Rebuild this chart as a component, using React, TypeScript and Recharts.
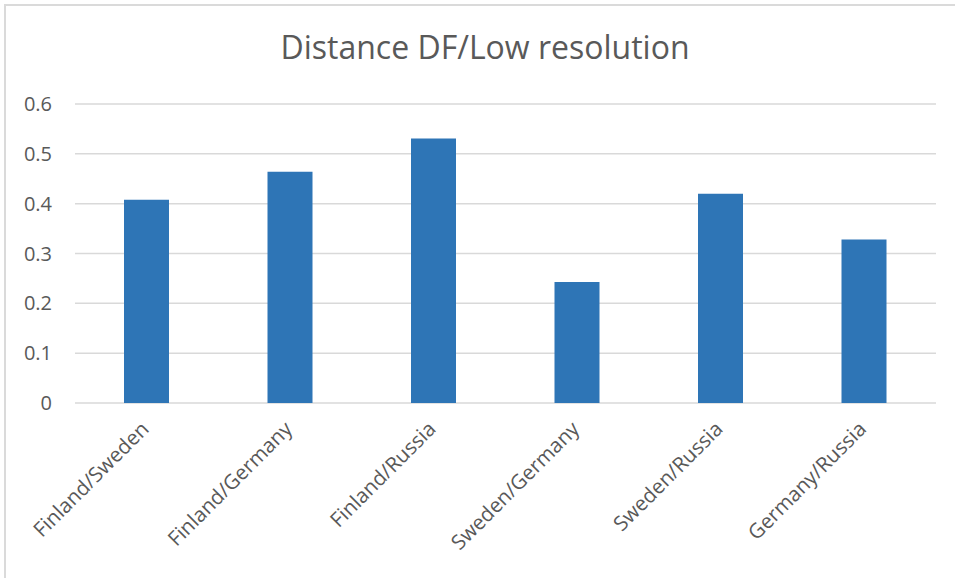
import React from "react";
import { BarChart, Bar, XAxis, YAxis, CartesianGrid } from "recharts";

const pairs = [
  "Finland/Sweden",
  "Finland/Germany",
  "Finland/Russia",
  "Sweden/Germany",
  "Sweden/Russia",
  "Germany/Russia",
];
const distances = [0.408, 0.464, 0.531, 0.243, 0.42, 0.328];
const yTicks = [0, 0.1, 0.2, 0.3, 0.4, 0.5, 0.6];

const chartTitle = "Distance DF/Low resolution";

const data = pairs.map((pair, i) => ({ pair, distance: distances[i] }));

const FONT = '"Open Sans", sans-serif';
const TEXT = "#595959";
const GRID = "#D9D9D9";

export default function App() {
  return (
    <div
      style={{
        position: "absolute",
        left: 0,
        top: 0,
        width: 955,
        height: 578,
        background: "#fff",
        overflow: "hidden",
      }}
    >
      <div
        style={{
          position: "absolute",
          left: 0,
          top: 31,
          width: 970,
          textAlign: "center",
          fontFamily: FONT,
          fontSize: 32,
          lineHeight: "32px",
          color: TEXT,
          whiteSpace: "nowrap",
        }}
      >
        {chartTitle}
      </div>
      <div style={{ position: "absolute", left: 0, top: 0 }}>
        <BarChart
          width={955}
          height={578}
          data={data}
          margin={{ top: 104, right: 19, bottom: 0, left: 0 }}
        >
          <CartesianGrid
            horizontal
            vertical={false}
            stroke={GRID}
            strokeWidth={1.5}
          />
          <XAxis
            dataKey="pair"
            height={175}
            axisLine={false}
            tickLine={false}
            tickSize={0}
            tickMargin={17}
            interval={0}
            angle={-45}
            textAnchor="end"
            tick={{ fill: TEXT, fontSize: 20.5, fontFamily: FONT, dx: -7 }}
          />
          <YAxis
            width={75}
            domain={[0, 0.6]}
            ticks={yTicks}
            axisLine={false}
            tickLine={false}
            tickSize={0}
            tickMargin={23}
            tick={{ fill: TEXT, fontSize: 20, fontFamily: FONT }}
          />
          <Bar
            dataKey="distance"
            fill="#2E75B6"
            barSize={45}
            isAnimationActive={false}
          />
        </BarChart>
      </div>
      {/* chart frame: only the top and left edges are visible */}
      <div
        style={{
          position: "absolute",
          left: 4,
          top: 4,
          width: 951,
          height: 574,
          borderTop: "2px solid #DADADA",
          borderLeft: "2px solid #DADADA",
          boxSizing: "border-box",
          pointerEvents: "none",
        }}
      />
    </div>
  );
}
